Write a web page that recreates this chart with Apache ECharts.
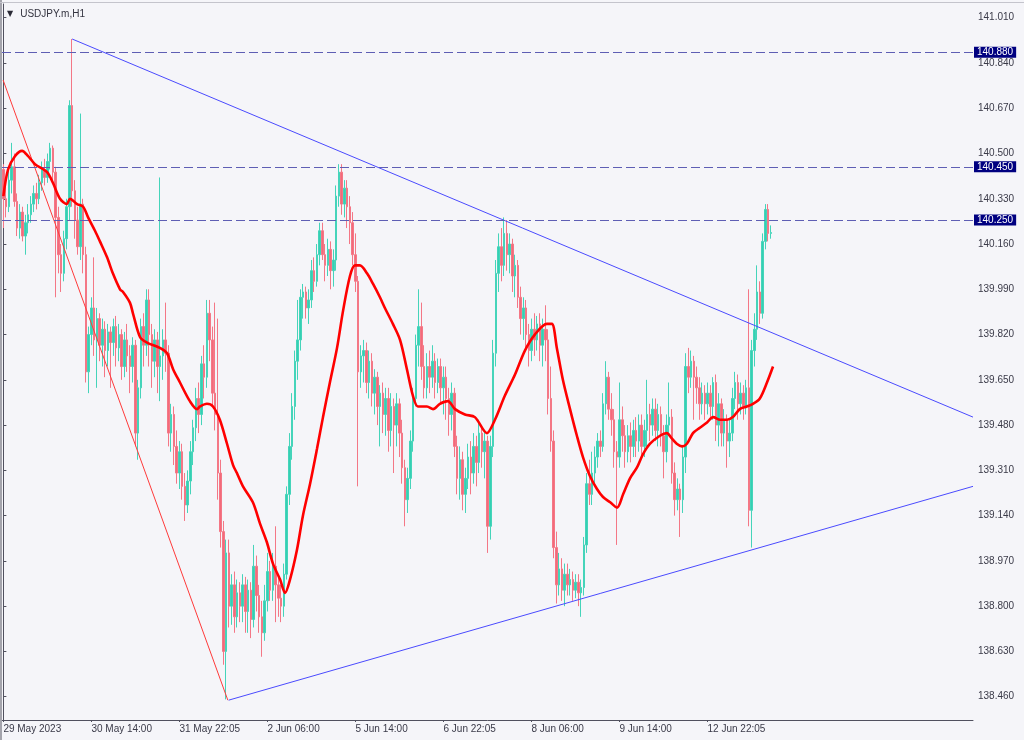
<!DOCTYPE html>
<html><head><meta charset="utf-8">
<script src="https://cdn.jsdelivr.net/npm/echarts@6/dist/echarts.min.js"></script>
<style>html,body{margin:0;padding:0;background:#f5f5f9}#c{width:1024px;height:740px}</style>
</head><body><div id="c"></div>
<script>
// ---- data ----
const title = 'USDJPY.m,H1';
const tickIdx = [0, 32, 64, 96, 128, 160, 192, 224, 256];
const tickLabels = ['29 May 2023', '30 May 14:00', '31 May 22:05', '2 Jun 06:00', '5 Jun 14:00', '6 Jun 22:05', '8 Jun 06:00', '9 Jun 14:00', '12 Jun 22:05'];
const priceTicks = [141.010, 140.840, 140.670, 140.500, 140.330, 140.160, 139.990, 139.820, 139.650, 139.480, 139.310, 139.140, 138.970, 138.800, 138.630, 138.460];
const levels = [140.880, 140.450, 140.250];
const lastPrice = 140.203;
const slotCount = 353;
// [open, close, low, high] per H1 bar
const candles = [
[140.44,140.33,140.22,140.46],[140.33,140.30,140.26,140.38],[140.30,140.40,140.28,140.45],[140.40,140.45,140.35,140.54],[140.45,140.32,140.30,140.50],
[140.32,140.22,140.19,140.35],[140.22,140.28,140.18,140.31],[140.28,140.19,140.17,140.30],[140.19,140.24,140.12,140.27],[140.24,140.27,140.20,140.31],
[140.27,140.31,140.24,140.34],[140.31,140.35,140.28,140.38],[140.35,140.33,140.29,140.39],[140.33,140.39,140.31,140.42],[140.39,140.44,140.36,140.47],
[140.44,140.41,140.38,140.48],[140.41,140.47,140.39,140.50],[140.47,140.52,140.44,140.54],[140.52,140.43,140.40,140.53],[140.43,140.26,139.96,140.45],
[140.26,140.12,140.05,140.30],[140.12,140.05,139.98,140.16],[140.05,140.18,140.02,140.21],[140.18,140.30,140.14,140.33],[140.30,140.68,140.25,140.70],
[140.68,140.36,140.30,140.93],[140.36,140.25,140.18,140.40],[140.25,140.15,140.12,140.30],[140.15,140.31,140.10,140.65],[140.31,140.12,140.05,140.33],
[140.12,139.68,139.64,140.15],[139.68,139.82,139.60,139.85],[139.82,139.92,139.78,139.96],[139.92,139.80,139.74,140.11],[139.80,139.88,139.62,139.92],
[139.88,139.78,139.72,139.90],[139.78,139.84,139.70,139.88],[139.84,139.76,139.66,139.87],[139.76,139.83,139.70,139.86],[139.83,139.79,139.62,139.85],
[139.79,139.85,139.74,139.88],[139.85,139.77,139.70,139.89],[139.77,139.82,139.72,139.86],[139.82,139.70,139.65,139.84],[139.70,139.80,139.66,139.83],
[139.80,139.74,139.68,139.86],[139.74,139.70,139.60,139.78],[139.70,139.78,139.64,139.81],[139.78,139.45,139.40,139.80],[139.45,139.62,139.35,139.65],
[139.62,139.85,139.58,139.88],[139.85,139.78,139.70,139.90],[139.78,139.95,139.74,139.99],[139.95,139.82,139.70,139.99],[139.82,139.72,139.62,139.86],
[139.72,139.80,139.66,139.84],[139.80,139.70,139.60,139.83],[139.70,139.74,139.57,140.41],[139.74,139.80,139.65,139.84],[139.80,139.75,139.68,139.94],
[139.75,139.45,139.40,139.78],[139.45,139.52,139.38,139.56],[139.52,139.40,139.33,139.55],[139.40,139.30,139.26,139.46],[139.30,139.38,139.24,139.42],
[139.38,139.25,139.20,139.41],[139.25,139.18,139.12,139.30],[139.18,139.27,139.15,139.31],[139.27,139.38,139.22,139.42],[139.38,139.47,139.33,139.50],
[139.47,139.58,139.42,139.62],[139.58,139.52,139.45,139.64],[139.52,139.71,139.48,139.74],[139.71,139.66,139.58,139.78],[139.66,139.90,139.62,139.95],
[139.90,139.80,139.72,139.95],[139.80,139.60,139.55,139.85],[139.60,139.52,139.46,139.94],[139.52,139.30,139.20,139.88],[139.30,139.08,139.02,139.35],
[139.08,138.63,138.58,139.12],[138.63,139.00,138.45,139.05],[139.00,138.80,138.72,139.05],[138.80,138.88,138.73,138.92],[138.88,138.76,138.70,138.93],
[138.76,138.85,138.72,138.90],[138.85,138.80,138.74,138.89],[138.80,138.88,138.74,138.92],[138.88,138.78,138.70,138.91],[138.78,138.86,138.70,138.90],
[138.86,138.75,138.68,138.89],[138.75,138.95,138.72,139.03],[138.95,138.84,138.78,138.99],[138.84,138.76,138.70,138.88],[138.76,138.70,138.61,138.82],
[138.70,138.82,138.67,138.88],[138.82,138.93,138.78,139.00],[138.93,138.86,138.82,138.97],[138.86,138.95,138.82,139.00],[138.95,138.88,138.74,139.10],
[138.88,138.83,138.76,138.92],[138.83,138.80,138.74,138.88],[138.80,138.92,138.76,138.96],[138.92,139.22,138.90,139.25],[139.22,139.40,139.18,139.45],
[139.40,139.55,139.35,139.60],[139.55,139.72,139.50,139.76],[139.72,139.80,139.65,139.95],[139.80,139.96,139.76,139.99],[139.96,139.98,139.88,140.01],
[139.98,139.92,139.88,140.00],[139.92,139.95,139.86,139.99],[139.95,140.06,139.92,140.10],[140.06,140.02,139.98,140.11],[140.02,140.12,140.00,140.16],
[140.12,140.21,140.08,140.24],[140.21,140.12,140.10,140.24],[140.12,140.08,140.02,140.16],[140.08,140.14,140.04,140.18],[140.14,140.06,139.99,140.17],
[140.06,140.10,140.00,140.14],[140.10,140.34,140.06,140.38],[140.34,140.43,140.30,140.46],[140.43,140.31,140.27,140.46],[140.31,140.37,140.26,140.40],
[140.37,140.30,140.22,140.40],[140.30,140.24,140.16,140.34],[140.24,140.12,140.08,140.28],[140.12,140.02,139.98,140.20],[140.02,139.68,139.25,140.04],
[139.68,139.74,139.62,139.78],[139.74,139.76,139.64,139.80],[139.76,139.64,139.60,139.79],[139.64,139.72,139.58,139.76],[139.72,139.60,139.55,139.75],
[139.60,139.66,139.52,139.69],[139.66,139.55,139.48,139.68],[139.55,139.60,139.40,139.63],[139.60,139.52,139.45,139.64],[139.52,139.58,139.44,139.62],
[139.58,139.46,139.38,139.62],[139.46,139.55,139.40,139.60],[139.55,139.48,139.30,139.58],[139.48,139.56,139.40,139.60],[139.56,139.45,139.36,139.58],
[139.45,139.32,139.26,139.50],[139.32,139.20,139.10,139.35],[139.20,139.28,139.15,139.32],[139.28,139.42,139.24,139.46],[139.42,139.58,139.38,139.62],
[139.58,139.78,139.55,139.82],[139.78,139.85,139.70,139.99],[139.85,139.70,139.65,139.94],[139.70,139.62,139.58,139.78],[139.62,139.70,139.58,139.75],
[139.70,139.66,139.60,139.76],[139.66,139.72,139.62,139.78],[139.72,139.64,139.58,139.75],[139.64,139.70,139.60,139.73],[139.70,139.62,139.56,139.73],
[139.62,139.66,139.52,139.70],[139.66,139.58,139.50,139.70],[139.58,139.52,139.44,139.62],[139.52,139.60,139.46,139.64],[139.60,139.40,139.36,139.62],
[139.40,139.28,139.22,139.44],[139.28,139.35,139.20,139.40],[139.35,139.22,139.16,139.38],[139.22,139.28,139.15,139.32],[139.28,139.36,139.24,139.41],
[139.36,139.30,139.22,139.42],[139.30,139.40,139.26,139.45],[139.40,139.34,139.25,139.44],[139.34,139.45,139.30,139.50],[139.45,139.38,139.32,139.48],
[139.38,139.42,139.28,139.46],[139.42,139.10,139.00,139.44],[139.10,139.40,139.05,139.44],[139.40,139.75,139.36,139.80],[139.75,140.05,139.70,140.10],
[140.05,140.15,139.98,140.20],[140.15,140.08,140.02,140.22],[140.08,140.20,140.04,140.26],[140.20,140.12,140.06,140.25],[140.12,140.16,140.05,140.20],
[140.16,140.04,139.98,140.18],[140.04,140.08,139.96,140.12],[140.08,139.96,139.92,140.10],[139.96,139.88,139.82,140.00],[139.88,139.92,139.80,139.96],
[139.92,139.82,139.76,139.95],[139.82,139.76,139.70,139.86],[139.76,139.84,139.72,139.88],[139.84,139.80,139.74,139.90],[139.80,139.86,139.76,139.89],
[139.86,139.78,139.72,139.90],[139.78,139.84,139.70,139.88],[139.84,139.80,139.72,139.93],[139.80,139.58,139.52,139.84],[139.58,139.42,139.38,139.70],
[139.42,139.02,138.98,139.46],[139.02,138.88,138.81,139.08],[138.88,138.94,138.84,139.00],[138.94,138.86,138.82,138.98],[138.86,138.92,138.80,138.96],
[138.92,138.88,138.84,138.96],[138.88,138.90,138.84,138.94],[138.90,138.86,138.82,138.93],[138.86,138.89,138.83,138.92],[138.89,138.85,138.80,138.92],
[138.85,138.87,138.76,138.90],[138.87,139.03,138.84,139.06],[139.03,139.26,139.00,139.30],[139.26,139.22,139.18,139.35],[139.22,139.30,139.18,139.38],
[139.30,139.36,139.26,139.40],[139.36,139.42,139.32,139.45],[139.42,139.40,139.36,139.46],[139.40,139.56,139.38,139.60],[139.56,139.66,139.52,139.72],
[139.66,139.54,139.50,139.68],[139.54,139.50,139.44,139.60],[139.50,139.38,139.32,139.54],[139.38,139.36,139.03,139.42],[139.36,139.50,139.32,139.64],
[139.50,139.44,139.38,139.55],[139.44,139.38,139.32,139.48],[139.38,139.44,139.34,139.48],[139.44,139.40,139.34,139.49],[139.40,139.46,139.36,139.50],
[139.46,139.42,139.36,139.51],[139.42,139.48,139.38,139.52],[139.48,139.40,139.36,139.52],[139.40,139.46,139.36,139.50],[139.46,139.52,139.40,139.65],
[139.52,139.48,139.42,139.56],[139.48,139.54,139.44,139.58],[139.54,139.46,139.42,139.58],[139.46,139.52,139.40,139.56],[139.52,139.44,139.40,139.55],
[139.44,139.38,139.28,139.48],[139.38,139.48,139.34,139.52],[139.48,139.51,139.44,139.64],[139.51,139.30,139.26,139.54],[139.30,139.20,139.14,139.34],
[139.20,139.24,139.16,139.28],[139.24,139.20,139.06,139.26],[139.20,139.36,139.15,139.40],[139.36,139.70,139.30,139.75],[139.70,139.66,139.60,139.77],
[139.66,139.72,139.62,139.76],[139.72,139.66,139.50,139.74],[139.66,139.62,139.56,139.70],[139.62,139.56,139.50,139.66],[139.56,139.60,139.52,139.64],
[139.60,139.56,139.50,139.63],[139.56,139.60,139.52,139.64],[139.60,139.55,139.50,139.63],[139.55,139.64,139.50,139.66],[139.64,139.48,139.42,139.67],
[139.48,139.56,139.40,139.60],[139.56,139.45,139.40,139.58],[139.45,139.50,139.40,139.54],[139.50,139.42,139.32,139.52],[139.42,139.45,139.36,139.50],
[139.45,139.58,139.42,139.62],[139.58,139.64,139.54,139.68],[139.64,139.56,139.50,139.67],[139.56,139.60,139.52,139.64],[139.60,139.55,139.50,139.63],
[139.55,139.62,139.52,139.65],[139.62,139.16,139.10,139.99],[139.16,139.76,139.02,139.80],[139.76,139.84,139.70,139.90],[139.84,139.98,139.80,140.08],
[139.98,139.90,139.86,140.02],[139.90,140.17,139.88,140.20],[140.17,140.29,140.14,140.31],[140.29,140.20,140.17,140.31],[140.20,140.203,140.18,140.23]
];
// moving average: [bar index, price]
const maPoints = [
[0,140.34],[1.7,140.44],[4.2,140.49],[6.8,140.51],[9,140.49],[11.5,140.46],[15.9,140.43],[18,140.39],[20.6,140.33],[23.1,140.31],
[24.2,140.33],[26.8,140.31],[29,140.30],[30.8,140.26],[33.3,140.21],[35.1,140.17],[37.7,140.11],[39.8,140.05],[42.4,139.99],[43.5,139.98],
[46,139.94],[47.1,139.90],[49.7,139.81],[52.2,139.79],[56.9,139.77],[59.5,139.75],[61.7,139.69],[64.2,139.64],[67.8,139.57],[70.4,139.54],
[71.5,139.55],[74,139.56],[76.2,139.55],[78.7,139.50],[81.3,139.41],[83.5,139.33],[84.9,139.30],[87.1,139.25],[90.7,139.19],[93.3,139.11],
[95.8,139.04],[98,138.96],[100.6,138.90],[102.4,138.85],[104.2,138.90],[106.7,139.01],[108.9,139.14],[111.5,139.26],[114,139.39],[116.2,139.51],
[118.7,139.64],[121.3,139.77],[123.5,139.91],[126,140.04],[127.8,140.08],[129.6,140.08],[132.2,140.05],[134.4,140.01],[136.9,139.96],[138.7,139.92],
[141.6,139.86],[144.2,139.80],[146.7,139.69],[148.9,139.59],[150.7,139.55],[154,139.55],[156.2,139.54],[158.7,139.56],[161.6,139.57],[164.2,139.54],
[167.8,139.52],[171.4,139.51],[175.8,139.45],[178.7,139.50],[182.3,139.59],[186,139.67],[189.6,139.76],[193.2,139.82],[197.6,139.86],[199.4,139.86],
[201.2,139.77],[203.4,139.65],[206,139.54],[208.5,139.44],[210.7,139.36],[213.2,139.29],[215.8,139.24],[218,139.21],[220.6,139.19],[223.1,139.17],
[225.3,139.22],[227.8,139.28],[230.3,139.32],[232.5,139.37],[235.1,139.41],[238.7,139.44],[241.2,139.45],[243,139.43],[244.8,139.41],[246.7,139.40],
[248.5,139.41],[250.7,139.45],[253.2,139.47],[255.8,139.49],[258,139.51],[260.6,139.50],[263.1,139.50],[265.2,139.51],[267.7,139.54],[270.3,139.55],
[272.5,139.56],[275,139.58],[277.6,139.64],[279.8,139.70]
];
// trend lines: [bar index, price]
const trendUpper = [[25, 140.93], [352.5, 139.51]];
const trendLower = [[81.9, 138.447], [352.5, 139.25]];
const trendRed = [[-0.1, 140.776], [81.6, 138.447]];

// ---- chart ----
const FONT = '"Liberation Sans", Arial, sans-serif';
const TXT = '#3a3a48';
const slots = Array.from({length: slotCount}, (_, i) => String(i));
const tickSet = new Set(tickIdx);
const chart = echarts.init(document.getElementById('c'), null, {renderer: 'canvas'});

const levelLine = (v, bg, showLine) => ({
  yAxis: v,
  lineStyle: showLine ? {color: '#5e5eb4', type: [9, 4], width: 1} : {opacity: 0},
  label: {
    show: true, position: 'end', distance: 1,
    formatter: () => v.toFixed(3),
    backgroundColor: bg, color: '#ffffff', fontFamily: FONT, fontSize: 10,
    padding: [1, 3, 0, 3], lineHeight: 10
  }
});

chart.setOption({
  animation: false,
  backgroundColor: '#f5f5f9',
  title: {
    left: 7, top: 5, padding: 0,
    text: '{t|▼} {n|' + title + '}',
    textStyle: {
      rich: {
        t: {fontFamily: '"DejaVu Sans"', fontSize: 8, color: '#2a2a36', padding: [0, 2, 0, 0]},
        n: {fontFamily: FONT, fontSize: 10, fontWeight: 'normal', color: '#33333f'}
      }
    }
  },
  graphic: [
    {type: 'rect', left: 0, top: 0, shape: {width: 2, height: 740}, style: {fill: '#a4a4ac'}, z: 100},
    {type: 'rect', left: 0, top: 2, shape: {width: 1024, height: 1}, style: {fill: '#c4c4cc'}, z: 100}
  ],
  grid: {left: 2, right: 51, top: 4, bottom: 20, containLabel: false},
  xAxis: [{
    type: 'category', data: slots, boundaryGap: true,
    axisLine: {show: true, lineStyle: {color: '#50505e', width: 1}},
    axisTick: {show: true, alignWithLabel: true, length: 2, interval: (i) => tickSet.has(i), lineStyle: {color: '#50505e'}},
    axisLabel: {
      show: true, interval: (i) => tickSet.has(i), align: 'left', margin: 4,
      fontFamily: FONT, fontSize: 10, color: TXT,
      formatter: (v, i) => { const k = tickIdx.indexOf(i); return k >= 0 ? tickLabels[k] : ''; }
    },
    splitLine: {show: false}
  }, {
    type: 'value', min: -0.5, max: slotCount - 0.5, show: false
  }],
  yAxis: [{
    type: 'value', position: 'right', min: 138.3725, max: 141.0615, scale: true,
    axisLine: {show: true, lineStyle: {color: '#50505e', width: 1}},
    axisTick: {show: true, length: 3, customValues: priceTicks, lineStyle: {color: '#50505e'}},
    axisLabel: {show: true, customValues: priceTicks, margin: 5, fontFamily: FONT, fontSize: 10, color: TXT,
      formatter: (v) => Number(v).toFixed(3)},
    splitLine: {show: false}
  }],
  series: [{
    type: 'candlestick', xAxisIndex: 0, yAxisIndex: 0,
    data: candles, barWidth: 2,
    itemStyle: {color: '#34d0b3', color0: '#f36a7a', borderColor: '#45d4ba', borderColor0: '#f47786', borderWidth: 1},
    markLine: {
      symbol: 'none', silent: true, precision: 3,
      data: [
        levelLine(levels[0], '#000080', true),
        levelLine(levels[1], '#000080', true),
        levelLine(levels[2], '#000080', true),
        levelLine(lastPrice, '#1c1c2c', false)
      ]
    },
    z: 3
  }, {
    type: 'line', xAxisIndex: 1, data: maPoints, smooth: 0.3, symbol: 'none',
    lineStyle: {color: '#ff0000', width: 2.6}, z: 5
  }, {
    type: 'line', xAxisIndex: 1, data: trendUpper, symbol: 'none',
    lineStyle: {color: '#4a4aff', width: 1}, z: 4
  }, {
    type: 'line', xAxisIndex: 1, data: trendLower, symbol: 'none',
    lineStyle: {color: '#4a4aff', width: 1}, z: 4
  }, {
    type: 'line', xAxisIndex: 1, data: trendRed, symbol: 'none',
    lineStyle: {color: '#ff3a3a', width: 1}, z: 4
  }]
});
</script>
</body></html>
